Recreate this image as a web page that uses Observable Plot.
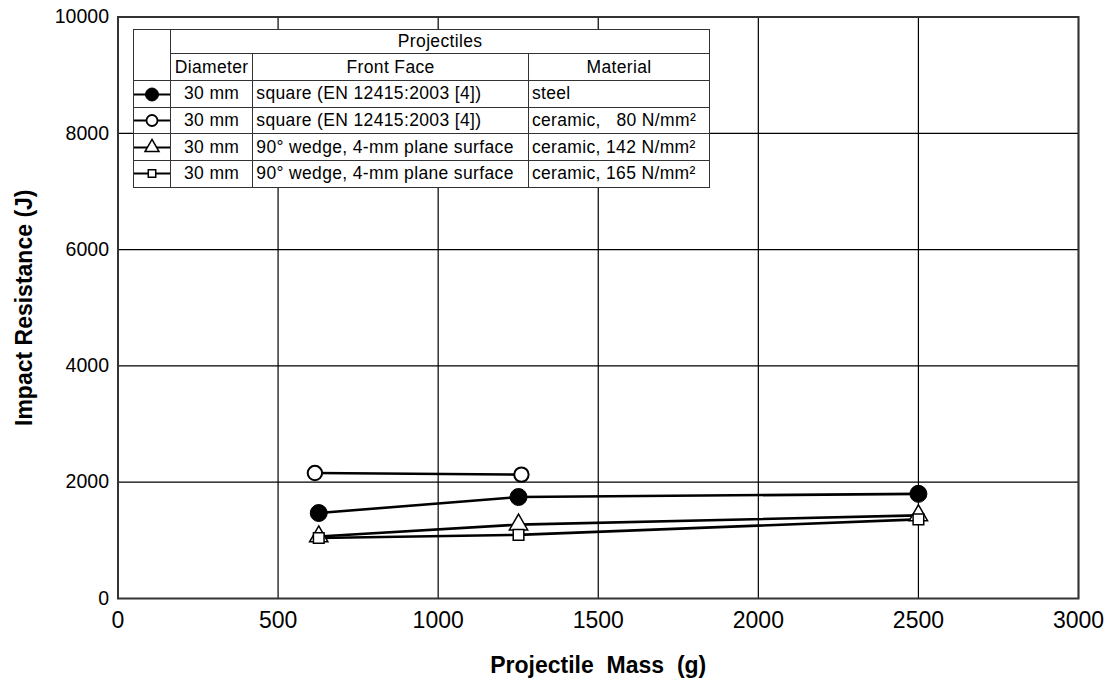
<!DOCTYPE html>
<html>
<head>
<meta charset="utf-8">
<script src="https://cdn.jsdelivr.net/npm/d3@7"></script>
<script src="https://cdn.jsdelivr.net/npm/@observablehq/plot@0.6"></script>
<style>
  html, body { margin: 0; padding: 0; background: #fff; }
  #wrap { position: relative; width: 1111px; height: 680px; font-family: "Liberation Sans", Arial, sans-serif; }
  #legend { position: absolute; left: 133px; top: 29px; border-collapse: collapse; table-layout: fixed; background: #fff;
            font-family: "Liberation Sans", Arial, sans-serif; font-size: 17.5px; letter-spacing: 0.35px; color: #000; }
  #legend td { border: 1px solid #333; padding: 0 3px; white-space: pre; overflow: visible; line-height: 1; }
  #legend td.c { text-align: center; }
  #legend td.sym { padding: 0; }
  #legend td.sym svg { display: block; }
  g[aria-label="x-axis label"] text, g[aria-label="y-axis label"] text { font-weight: bold; font-size: 23px; }
</style>
</head>
<body>
<div id="wrap"></div>
<script>
// ---- data ----
const massSteel = [627, 1251, 2500];
const resSteel  = [1470, 1745, 1800];
const massCer80 = [615, 1260];
const resCer80  = [2158, 2131];
const massCer142 = [627, 1251, 2500];
const resCer142  = [1065, 1270, 1430];
const massCer165 = [627, 1251, 2500];
const resCer165  = [1040, 1095, 1360];

const xTicks = [0, 500, 1000, 1500, 2000, 2500, 3000];
const yTicks = [0, 2000, 4000, 6000, 8000, 10000];

const legendHeader = "Projectiles";
const legendCols = ["Diameter", "Front Face", "Material"];
const legendDiam = ["30 mm", "30 mm", "30 mm", "30 mm"];
const legendFace = ["square (EN 12415:2003 [4])", "square (EN 12415:2003 [4])", "90° wedge, 4-mm plane surface", "90° wedge, 4-mm plane surface"];
const legendMat  = ["steel", "ceramic,   80 N/mm²", "ceramic, 142 N/mm²", "ceramic, 165 N/mm²"];

const toRows = (xs, ys) => xs.map((x, i) => ({x, y: ys[i]}));
const steel = toRows(massSteel, resSteel);
const cer80 = toRows(massCer80, resCer80);
const cer142 = toRows(massCer142, resCer142);
const cer165 = toRows(massCer165, resCer165);

const lineOpts = {x: "x", y: "y", stroke: "black", strokeWidth: 2.6};

const chart = Plot.plot({
  width: 1111,
  height: 680,
  marginLeft: 117.5,
  marginRight: 33,
  marginTop: 16.5,
  marginBottom: 82,
  style: {fontFamily: "Liberation Sans, Arial, sans-serif", color: "black", background: "white", overflow: "visible"},
  x: {domain: [0, 3000]},
  y: {domain: [0, 10000]},
  marks: [
    Plot.gridX(xTicks, {stroke: "black", strokeOpacity: 1, strokeWidth: 1.2}),
    Plot.gridY(yTicks, {stroke: "black", strokeOpacity: 1, strokeWidth: 1.2}),
    Plot.axisX(xTicks, {tickSize: 0, tickPadding: 13, fontSize: 23, tickFormat: d => String(d),
      label: "Projectile  Mass  (g)", labelAnchor: "center", labelArrow: "none", labelOffset: 74}),
    Plot.axisY(yTicks, {tickSize: 0, tickPadding: 9, fontSize: 19.5, tickFormat: d => String(d),
      label: "Impact Resistance (J)", labelAnchor: "center", labelArrow: "none", labelOffset: 102}),
    Plot.frame({stroke: "#333", strokeWidth: 2}),
    Plot.line(cer80, lineOpts),
    Plot.line(steel, lineOpts),
    Plot.line(cer142, lineOpts),
    Plot.line(cer165, lineOpts),
    Plot.dot(cer80, {x: "x", y: "y", r: 7.2, fill: "white", stroke: "black", strokeWidth: 2}),
    Plot.dot(steel, {x: "x", y: "y", r: 8.5, fill: "black", stroke: "black", strokeWidth: 1}),
    Plot.dot(cer142, {x: "x", y: "y", symbol: "triangle", r: 6.8, fill: "white", stroke: "black", strokeWidth: 1.5}),
    Plot.dot(cer165, {x: "x", y: "y", symbol: "square", r: 6.0, fill: "white", stroke: "black", strokeWidth: 1.5})
  ]
});

const wrap = document.getElementById("wrap");
wrap.appendChild(chart);

// ---- legend table ----
const symbols = [
  {type: d3.symbolCircle, r: 6.5, fill: "black", sw: 1},
  {type: d3.symbolCircle, r: 5.5, fill: "white", sw: 1.8},
  {type: d3.symbolTriangle, r: 5.2, fill: "white", sw: 1.5},
  {type: d3.symbolSquare, r: 4.2, fill: "white", sw: 1.5}
];
const table = d3.select(wrap).append("table").attr("id", "legend");
const cg = table.append("colgroup");
[36.7, 82.3, 275.6, 181.4].forEach(w => cg.append("col").style("width", w + "px"));
const h1 = table.append("tr").style("height", "24.3px");
h1.append("td").attr("rowspan", 2);
h1.append("td").attr("colspan", 3).attr("class", "c").text(legendHeader);
const h2 = table.append("tr").style("height", "27px");
legendCols.forEach(c => h2.append("td").attr("class", "c").text(c));
legendDiam.forEach((d, i) => {
  const tr = table.append("tr").style("height", "26.6px");
  const s = symbols[i];
  const svg = tr.append("td").attr("class", "sym").append("svg").attr("width", 36).attr("height", 25);
  svg.append("line").attr("x1", 0).attr("x2", 36).attr("y1", 12.5).attr("y2", 12.5).attr("stroke", "black").attr("stroke-width", 2);
  svg.append("path").attr("transform", "translate(18,12.5)")
    .attr("d", d3.symbol(s.type, Math.PI * s.r * s.r)())
    .attr("fill", s.fill).attr("stroke", "black").attr("stroke-width", s.sw);
  tr.append("td").attr("class", "c").text(d);
  tr.append("td").text(legendFace[i]);
  tr.append("td").text(legendMat[i]);
});
</script>
</body>
</html>
